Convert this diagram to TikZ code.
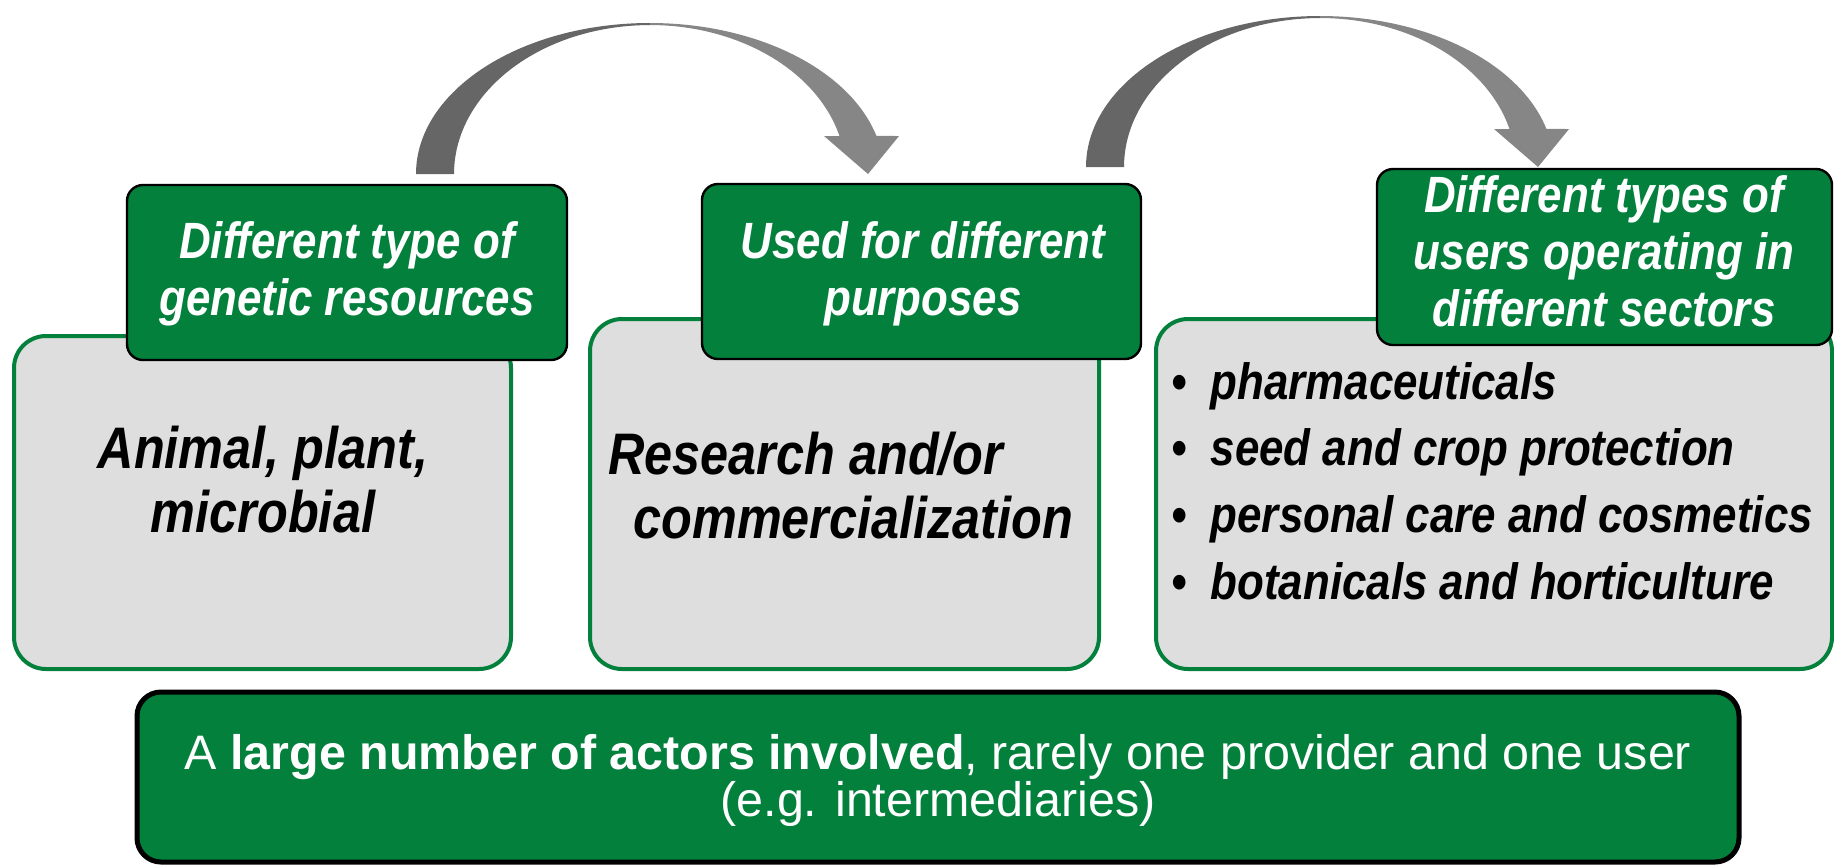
\documentclass[tikz,border=0pt]{standalone}
\usepackage{fontspec}
\setmainfont{Liberation Sans}
\newfontfamily\narrowsf[FakeStretch=0.86]{Liberation Sans}
\usetikzlibrary{positioning}
\definecolor{absgreen}{RGB}{2,128,60}
\definecolor{absgray}{RGB}{222,222,222}
\definecolor{arrowdark}{RGB}{102,102,102}
\definecolor{arrowlight}{RGB}{134,134,134}
\tikzset{
  graybox/.style={draw=absgreen, line width=2pt, fill=absgray, rounded corners=16pt},
  greenlabel/.style={draw=black, line width=1.2pt, fill=absgreen, rounded corners=8pt},
  labeltext/.style={text=white, align=center, inner sep=0pt,
    font=\narrowsf\bfseries\itshape\fontsize{25.5}{28.5}\selectfont},
  bigtext/.style={inner sep=0pt, font=\narrowsf\bfseries\itshape\fontsize{29.3}{32}\selectfont},
  itemtext/.style={inner sep=0pt, align=left, anchor=west,
    font=\narrowsf\bfseries\itshape\fontsize{25.5}{33.3}\selectfont},
}

\begin{document}
\begin{tikzpicture}[x=0.5pt, y=-0.5pt]
\useasboundingbox (0,0) rectangle (1834,864);
% Curved arrows
\foreach \cx/\cy in {650/174, 1320/167} {
  \begin{scope}
    \clip (\cx-234,\cy) arc[start angle=180, end angle=345.4, x radius=234, y radius=151]
      -- (\cx+249,\cy-38) -- (\cx+218,\cy) -- (\cx+174,\cy-38) -- (\cx+189.5,\cy-38)
      arc[start angle=345.2, end angle=180, x radius=196, y radius=149] -- cycle;
    \fill[arrowdark] (\cx-250,\cy-160) rectangle (\cx,\cy+5);
    \fill[arrowlight] (\cx,\cy-160) rectangle (\cx+260,\cy+5);
  \end{scope}
}
% Content boxes
\draw[graybox] (14,336) rectangle (511,669);
\draw[graybox] (590,319) rectangle (1099,669);
\draw[graybox] (1156,319) rectangle (1832,669);
% Headings
\draw[greenlabel] (127,185) rectangle (567,360);
\draw[greenlabel] (702,184) rectangle (1141,359);
\draw[greenlabel] (1377,169) rectangle (1832,345);
\node[labeltext] (restype) at (347,274) {Different type of\\genetic resources};
\node[labeltext] (purpose) at (923,274) {Used for different\\purposes};
\node[labeltext] (usertype) at (1604,251) {Different types of\\users operating in\\different sectors};
% Box texts
\node[bigtext, align=center] (origin) at (263,480) {Animal, plant,\\microbial};
\node[bigtext, align=left, anchor=west] (useful) at (608,486) {Research and/or\\\hspace{12.5pt}commercialization};
\node[itemtext] (sectors) at (1171,481) {\textbullet\hspace{12pt}pharmaceuticals\\
  \textbullet\hspace{12pt}seed and crop protection\\
  \textbullet\hspace{12pt}personal care and cosmetics\\
  \textbullet\hspace{12pt}botanicals and horticulture};
% Actors
\draw[line width=2.5pt, fill=absgreen, rounded corners=12pt] (137,692) rectangle (1739,862);
\node[text=white, align=center, inner sep=0pt, font=\fontsize{24.2}{23.5}\selectfont] (actors) at (938,780)
  {A \textbf{large number of actors involved}, rarely one provider and one user\\(e.g. intermediaries)};
\end{tikzpicture}
\end{document}
